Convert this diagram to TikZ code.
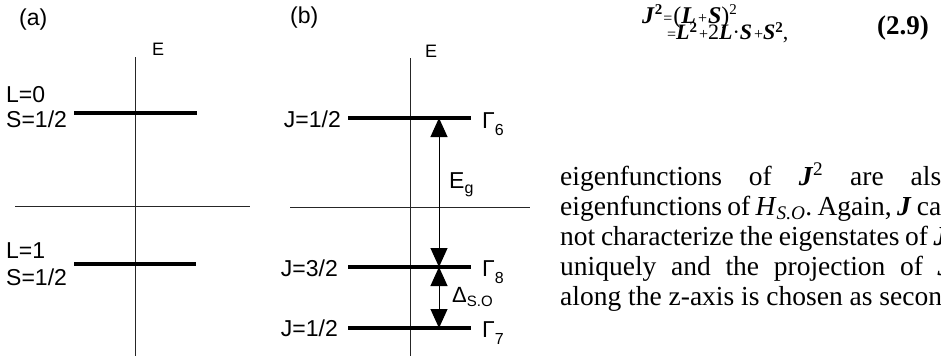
\documentclass[tikz,border=0pt]{standalone}
\usepackage{fontspec}
\setmainfont{Liberation Serif}
\newfontfamily\serifx{Liberation Serif}
\newfontfamily\sansx{Liberation Sans}
\usetikzlibrary{arrows.meta}
\newcommand\bi[1]{\textbf{\textit{#1}}}
\newcommand\smop[1]{{\fontsize{16}{16}\selectfont #1}}
\newcommand\psup[2]{\raisebox{#1}{\fontsize{15}{15}\selectfont #2}}
\newcommand\sbs[3]{\raisebox{-#1}{\fontsize{#2}{#2}\selectfont #3}}
\newcommand\fitline[2]{{\spaceskip=5pt plus 20pt minus 2pt\xspaceskip=5pt plus 20pt minus 2pt\makebox[#1][s]{#2}}}
\tikzset{
  lvl/.style={line width=4.5pt},
  axisline/.style={line width=1pt, black!85},
  lab/.style={font=\sansx\fontsize{23}{23}\selectfont, inner sep=0pt},
  elab/.style={font=\sansx\fontsize{18}{18}\selectfont, inner sep=0pt, anchor=base west},
  body/.style={font=\serifx\fontsize{27.5}{30}\selectfont, inner sep=0pt, anchor=base west},
  eqn/.style={font=\serifx\fontsize{24}{24}\selectfont, inner sep=0pt, anchor=base west},
  gap/.style={line width=1pt, {Triangle[length=19pt,width=17pt]}-{Triangle[length=19pt,width=17pt]}}
}
\begin{document}
\begin{tikzpicture}[x=1pt,y=-1pt]
\path[use as bounding box] (0,0) rectangle (941,360);
\clip (0,0) rectangle (941,360);

% ---------- panel (a) ----------
\node[lab, anchor=base west] (la) at (19,25) {(a)};
\node[elab] (ea) at (152,55) {E};
\coordinate (aAxTop) at (135,57);
\coordinate (aAxBot) at (135,356);
\draw[axisline] (aAxTop) -- (aAxBot);
\coordinate (aHl) at (15,206);
\coordinate (aHr) at (250,206);
\draw[axisline] (aHl) -- (aHr);
\coordinate (a1l) at (74,113);
\coordinate (a1r) at (197,113);
\draw[lvl] (a1l) -- (a1r);
\coordinate (a2l) at (74,264);
\coordinate (a2r) at (196,264);
\draw[lvl] (a2l) -- (a2r);
\node[lab, anchor=base west] (aL0) at (6,102) {L=0};
\node[lab, anchor=base west] (aS0) at (6,127) {S=1/2};
\node[lab, anchor=base west] (aL1) at (6,258) {L=1};
\node[lab, anchor=base west] (aS1) at (6,285) {S=1/2};

% ---------- panel (b) ----------
\node[lab, anchor=base west] (lb) at (290,23) {(b)};
\node[elab] (eb) at (425,57) {E};
\coordinate (bAxTop) at (410,58);
\coordinate (bAxBot) at (410,356);
\draw[axisline] (bAxTop) -- (bAxBot);
\coordinate (bHl) at (290,207);
\coordinate (bHr) at (530,207);
\draw[axisline] (bHl) -- (bHr);
\coordinate (b6l) at (348,118);
\coordinate (b6r) at (471,118);
\coordinate (b8l) at (348,267);
\coordinate (b8r) at (471,267);
\coordinate (b7l) at (348,328);
\coordinate (b7r) at (471,328);
\draw[lvl] (b6l) -- (b6r);
\draw[lvl] (b8l) -- (b8r);
\draw[lvl] (b7l) -- (b7r);
\node[lab, anchor=base east] (j6) at (341,127) {J=1/2};
\node[lab, anchor=base east] (j8) at (338,276) {J=3/2};
\node[lab, anchor=base east] (j7) at (338,336) {J=1/2};
\node[lab, anchor=base west] (g6) at (482,128) {Γ\sbs{7pt}{16}{6}};
\node[lab, anchor=base west] (g8) at (482,276) {Γ\sbs{7pt}{16}{8}};
\node[lab, anchor=base west] (g7) at (482,337) {Γ\sbs{7pt}{16}{7}};
\coordinate (p6) at (439,118);
\coordinate (p8) at (439,267);
\coordinate (p7) at (439,328);
\draw[gap] (p6) -- (p8);
\draw[gap] (p8) -- (p7);
\node[lab, anchor=base west] (eg) at (449,188) {E\sbs{5pt}{16}{g}};
\node[lab, anchor=base west, font=\sansx\fontsize{22}{22}\selectfont] (dso) at (452,302) {Δ\sbs{4pt}{15}{S.O}};

% ---------- text ----------
\node[eqn] (eq1) at (642,23) {\bi{J}\psup{9pt}{\textbf{2}}\kern1pt\smop{=}\kern1pt(\bi{L}\kern2pt\smop{+}\kern1pt\bi{S})\psup{9pt}{2}};
\node[eqn, font=\serifx\fontsize{22}{22}\selectfont] (eq2) at (667,39) {\smop{=}\bi{L}\psup{7pt}{\textbf{2}}\kern2pt\smop{+}2\bi{L}·\bi{S}\kern2pt\smop{+}\bi{S}\psup{7pt}{\textbf{2}},};
\node[body, font=\serifx\bfseries\fontsize{27}{27}\selectfont] (eqno) at (877,34) {(2.9)};

\node[body] (t1) at (560,185) {\makebox[381pt][s]{eigenfunctions\hfill of\hfill \bi{J}\textsuperscript{2}\hfill are\hfill als}};
\node[body] (t2) at (560,215) {\fitline{381pt}{eigenfunctions of \textit{H}\textsubscript{\textit{S.O}}. Again, \bi{J} ca}};
\node[body] (t3) at (560,245) {\fitline{388pt}{not characterize the eigenstates of \bi{J}}};
\node[body] (t4) at (560,275) {\makebox[392pt][s]{uniquely\hfill and\hfill the\hfill projection\hfill of\hfill \bi{J}}};
\node[body] (t5) at (560,305) {along the z-axis is chosen as secon};
\end{tikzpicture}
\end{document}
